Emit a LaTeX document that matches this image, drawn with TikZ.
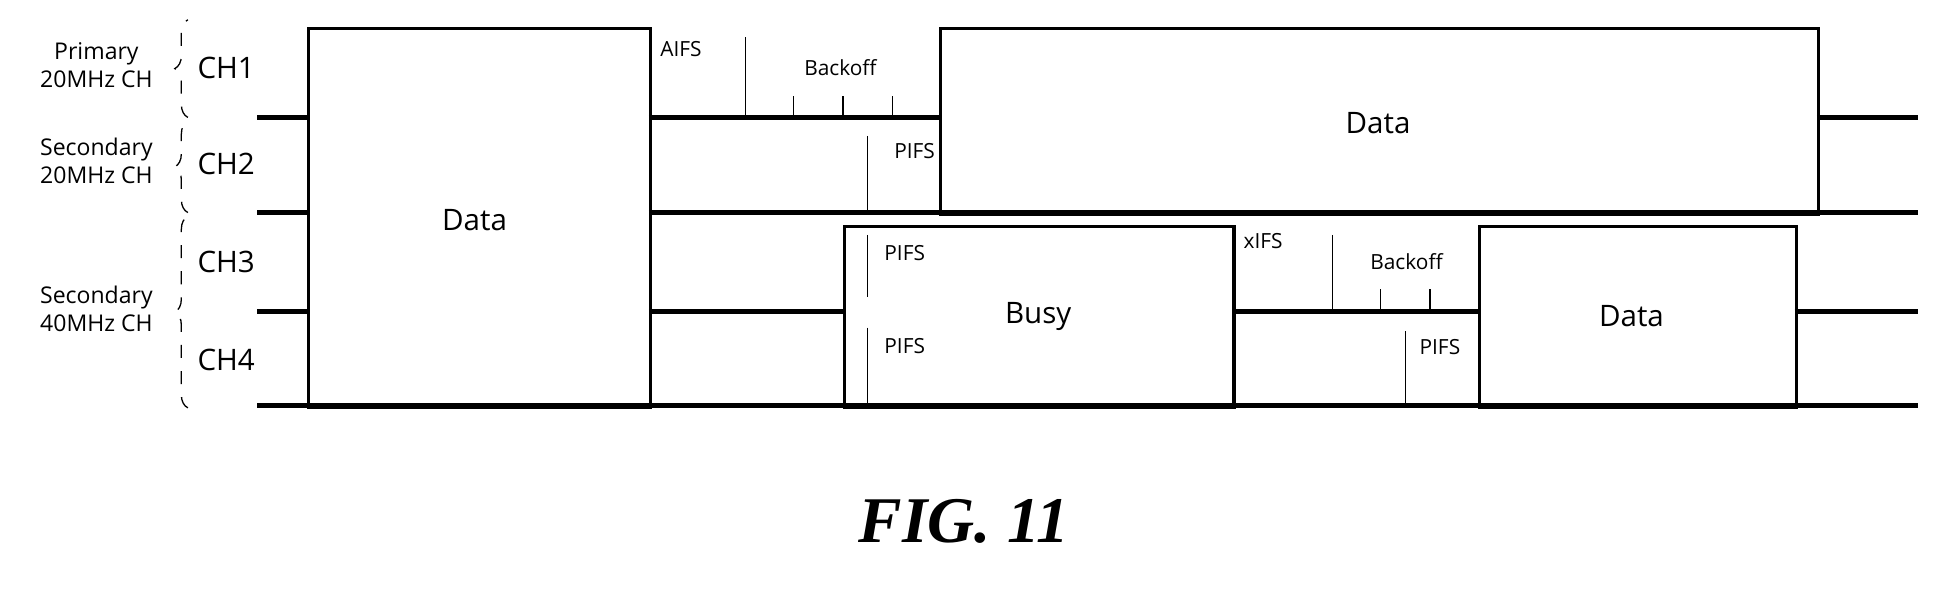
\documentclass[tikz,border=0pt]{standalone}
\usepackage{fontspec}
\setmainfont{Open Sans}
\newfontfamily\figfont{Liberation Serif}
\usetikzlibrary{decorations.pathreplacing}
\tikzset{
  chline/.style={line width=1.1pt},
  frame/.style={draw, line width=0.7pt, anchor=north west, inner sep=0pt},
  tick/.style={line width=0.3pt},
  lbl/.style={font=\fontsize{4.8}{6}\selectfont, inner sep=1pt},
  big/.style={font=\fontsize{6.8}{8}\selectfont},
  grp/.style={font=\fontsize{5.3}{6.5}\selectfont, align=center, inner sep=0pt},
  brc/.style={decorate, decoration={brace, amplitude=3pt}, dashed, line width=0.3pt}
}
\begin{document}
\begin{tikzpicture}[x=0.01cm, y=-0.01cm]
\useasboundingbox (0,0) rectangle (1568,483);

% boxes
\node (D1) at (248,22) [frame, minimum width=2.77cm, minimum height=3.06cm]{};
\node at (384,178) [big]{Data};
\node (D2) at (760,22) [frame, minimum width=7.10cm, minimum height=1.50cm]{};
\node at (1115,100) [big]{Data};
\node (B1) at (682,182) [frame, minimum width=3.15cm, minimum height=1.46cm]{};
\node at (840,256) [big]{Busy};
\node (D3) at (1196,182) [frame, minimum width=2.56cm, minimum height=1.46cm]{};
\node at (1320,256) [big]{Data};

% channel lines
\draw [chline] (208,95) -- (248,95);
\draw [chline] (525,95) -- (760,95);
\draw [chline] (1470,95) -- (1552,95);
\draw [chline] (208,172) -- (248,172);
\draw [chline] (525,172) -- (1552,172);
\draw [chline] (208,252) -- (248,252);
\draw [chline] (525,252) -- (682,252);
\draw [chline] (997,252) -- (1196,252);
\draw [chline] (1452,252) -- (1552,252);
\draw [chline] (208,328) -- (1552,328);

% CH1/CH2 gaps
\node at (551,40) [lbl]{AIFS};
\draw [tick] (603,30) -- (603,95);
\node at (680,55) [lbl]{Backoff};
\foreach \x in {642,682,722} \draw [tick] (\x,78) -- (\x,95);
\draw [tick] (702,110) -- (702,172);
\node at (740,122) [lbl]{PIFS};

% CH3/CH4 inside busy
\draw [tick] (702,190) -- (702,240);
\node at (732,205) [lbl]{PIFS};
\draw [tick] (702,265) -- (702,328);
\node at (732,280) [lbl]{PIFS};

% CH3/CH4 gaps
\node at (1022,195) [lbl]{xIFS};
\draw [tick] (1078,190) -- (1078,252);
\node at (1138,212) [lbl]{Backoff};
\foreach \x in {1117,1157} \draw [tick] (\x,234) -- (\x,252);
\draw [tick] (1137,268) -- (1137,328);
\node at (1165,281) [lbl]{PIFS};

% channel names
\foreach \n/\y in {1/55,2/133,3/212,4/291}
  \node (CH\n) at (183,\y) [big]{CH\n};

% groups
\draw [brc] (152,95) -- (152,16);
\draw [brc] (152,172) -- (152,98);
\draw [brc] (152,330) -- (152,175);
\node (G1) at (78,53) [grp]{Primary\\20MHz CH};
\node (G2) at (78,130) [grp]{Secondary\\20MHz CH};
\node (G3) at (78,250) [grp]{Secondary\\40MHz CH};

\node (fig) at (780,422) [font=\fontsize{15}{17}\selectfont\figfont\bfseries\itshape]{FIG. 11};
\end{tikzpicture}
\end{document}
